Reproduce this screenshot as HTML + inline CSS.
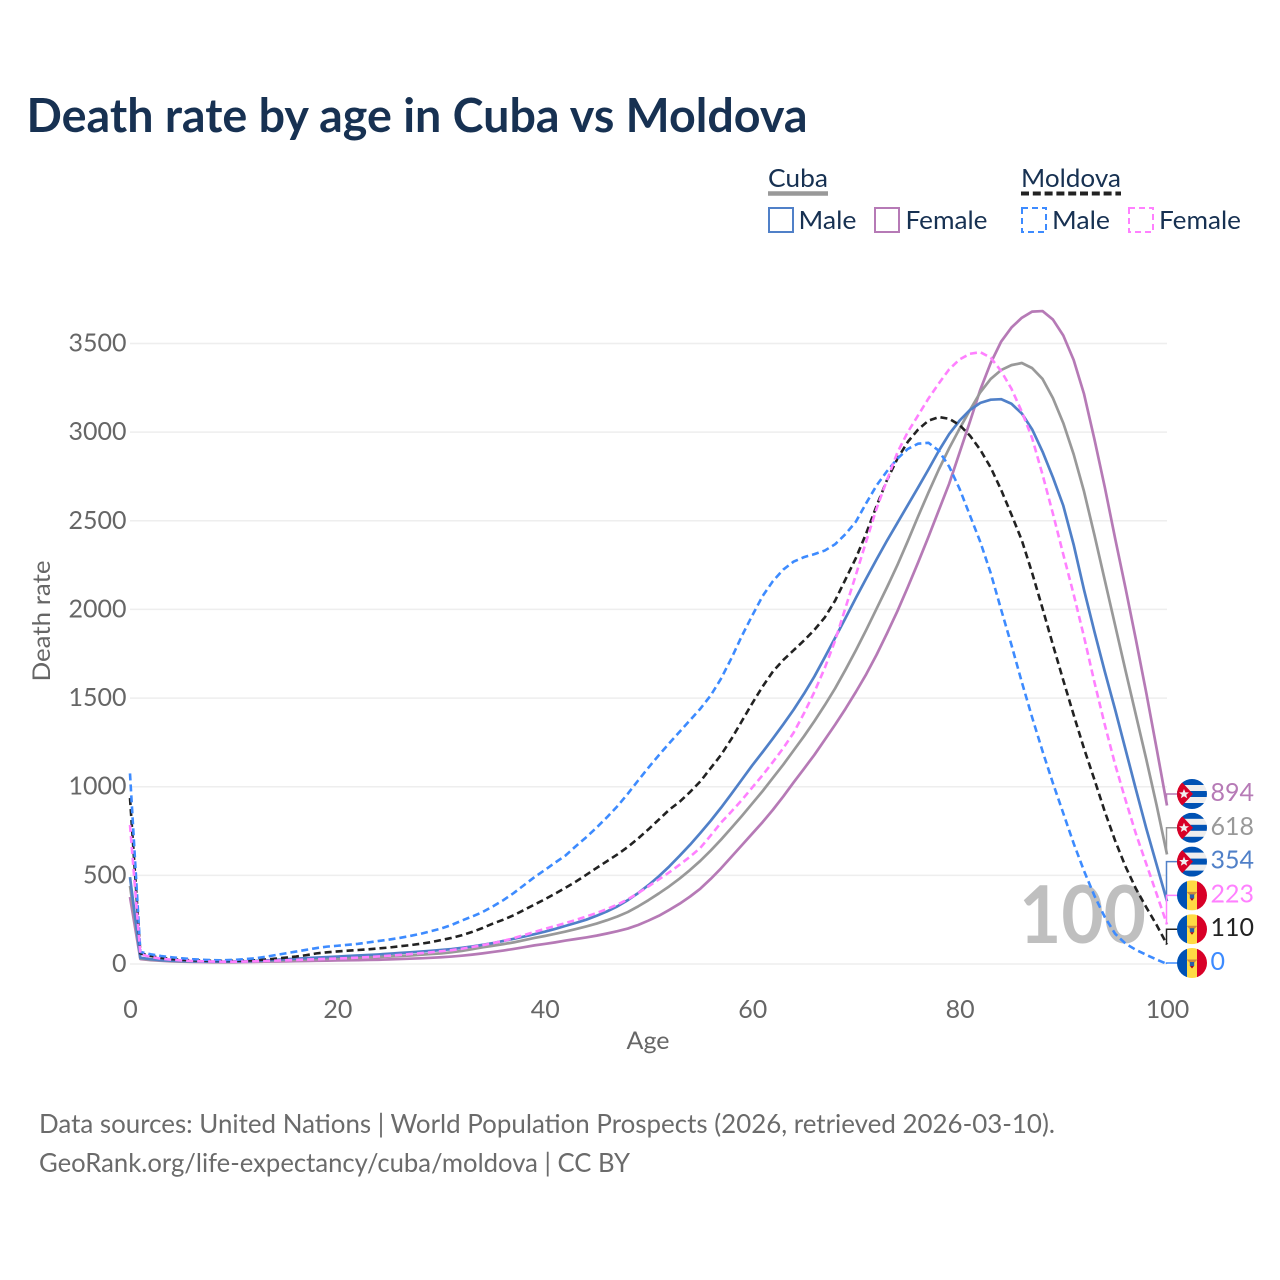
<!DOCTYPE html>
<html lang="en">
<head>
<meta charset="utf-8">
<title>Death rate by age in Cuba vs Moldova</title>
<style>
html,body{margin:0;padding:0;background:#fff;width:1280px;height:1280px;overflow:hidden}
svg{display:block;font-family:"Lato","Carlito","Liberation Sans",sans-serif}
</style>
</head>
<body>
<svg id="chart" xmlns="http://www.w3.org/2000/svg" width="1280" height="1280" viewBox="0 0 1280 1280">
  <defs>
    <clipPath id="flag-clip"><circle cx="0" cy="0" r="15"/></clipPath>
    <g id="flag-cuba" clip-path="url(#flag-clip)">
      <rect x="-15" y="-15" width="30" height="30" fill="#eeeeee"/>
      <rect x="-15" y="-15" width="30" height="6" fill="#0052b4"/>
      <rect x="-15" y="-3" width="30" height="6" fill="#0052b4"/>
      <rect x="-15" y="9" width="30" height="6" fill="#0052b4"/>
      <polygon points="-15,-15 -13,-15 1,0 -13,15 -15,15" fill="#d80027"/>
      <polygon points="-8,-5 -6.6,-1.6 -3,-1.6 -5.8,0.7 -4.8,4.2 -8,2.2 -11.2,4.2 -10.2,0.7 -13,-1.6 -9.4,-1.6" fill="#f0f0f0"/>
    </g>
    <g id="flag-moldova" clip-path="url(#flag-clip)">
      <rect x="-15" y="-15" width="10" height="30" fill="#0052b4"/>
      <rect x="-5" y="-15" width="10" height="30" fill="#ffda44"/>
      <rect x="5" y="-15" width="10" height="30" fill="#d80027"/>
      <polygon points="-5.5,-3.5 5.5,-3.5 2.5,-0.5 -2.5,-0.5" fill="#d08a3c"/>
      <rect x="-2.2" y="-1" width="4.4" height="4" fill="#2b5fa8"/>
      <polygon points="-2,3 2,3 0,5.5" fill="#a2001d"/>
    </g>
  </defs>

  <text x="26.5" y="132" font-size="47" font-weight="700" fill="#173152" textLength="781" lengthAdjust="spacingAndGlyphs">Death rate by age in Cuba vs Moldova</text>

  <g font-size="25" fill="#173152">
    <text x="768" y="187" textLength="60" lengthAdjust="spacingAndGlyphs">Cuba</text>
    <line x1="768" x2="828" y1="193.5" y2="193.5" stroke="#999999" stroke-width="4.5"/>
    <text x="1021" y="187" textLength="100" lengthAdjust="spacingAndGlyphs">Moldova</text>
    <line x1="1021" x2="1121" y1="193.5" y2="193.5" stroke="#222222" stroke-width="4" stroke-dasharray="8 3.8"/>

    <rect x="769" y="208" width="24" height="24" fill="none" stroke="#5080c8" stroke-width="2"/>
    <text x="798.5" y="229" textLength="58" lengthAdjust="spacingAndGlyphs">Male</text>
    <rect x="875" y="208" width="24" height="24" fill="none" stroke="#b67ab6" stroke-width="2"/>
    <text x="905.5" y="229" textLength="82" lengthAdjust="spacingAndGlyphs">Female</text>
    <rect x="1022" y="208" width="24" height="24" fill="none" stroke="#3d8bff" stroke-width="2" stroke-dasharray="6 4"/>
    <text x="1052" y="229" textLength="58" lengthAdjust="spacingAndGlyphs">Male</text>
    <rect x="1129" y="208" width="24" height="24" fill="none" stroke="#ff80ff" stroke-width="2" stroke-dasharray="6 4"/>
    <text x="1159" y="229" textLength="82" lengthAdjust="spacingAndGlyphs">Female</text>
  </g>

  <g id="grid"></g>
  <g id="y-ticks"></g>
  <g id="x-ticks"></g>

  <text transform="translate(50,621) rotate(-90)" text-anchor="middle" font-size="24" fill="#666666" textLength="121" lengthAdjust="spacingAndGlyphs">Death rate</text>
  <text x="648" y="1049" text-anchor="middle" font-size="24" fill="#666666" textLength="43" lengthAdjust="spacingAndGlyphs">Age</text>

  <text x="1019" y="943" font-size="80" font-weight="700" fill="#bfbfbf" textLength="127" lengthAdjust="spacingAndGlyphs">100</text>

  <g id="series" fill="none" stroke-linejoin="round"></g>
  <g id="end-labels"></g>

  <text x="39" y="1133" font-size="26" fill="#6b6b6b" textLength="1016" lengthAdjust="spacingAndGlyphs">Data sources: United Nations | World Population Prospects (2026, retrieved 2026-03-10).</text>
  <text x="39" y="1172" font-size="26" fill="#6b6b6b" textLength="591" lengthAdjust="spacingAndGlyphs">GeoRank.org/life-expectancy/cuba/moldova | CC BY</text>
</svg>

<script>
// Chart data: death rate per age 0..100 (index = age)
const yTicks = [0, 500, 1000, 1500, 2000, 2500, 3000, 3500];
const xTicks = [0, 20, 40, 60, 80, 100];

const cubaMale = [
  490,35,27,22,19,17,15,14,13,13,
  14,15,17,20,23,27,30,33,36,39,
  42,45,48,51,54,58,62,66,70,74,
  79,84,91,99,108,118,130,142,155,168,
  182,198,215,232,250,272,297,325,360,400,
  445,495,550,610,672,739,808,882,960,1040,
  1120,1195,1272,1352,1435,1525,1622,1730,1840,1952,
  2065,2175,2283,2388,2488,2588,2688,2790,2895,2990,
  3065,3125,3165,3183,3186,3160,3105,3015,2890,2745,
  2585,2365,2110,1875,1650,1435,1210,985,765,560,
  354
];
const cubaFemale = [
  378,28,22,18,15,13,12,11,10,10,
  10,11,12,13,14,15,16,17,18,19,
  20,21,22,23,24,26,28,30,32,35,
  38,42,47,53,60,68,76,85,95,105,
  113,122,132,141,150,160,172,185,200,220,
  245,272,305,340,380,425,480,540,605,670,
  735,800,870,945,1025,1102,1180,1265,1350,1440,
  1535,1635,1745,1865,1990,2125,2265,2410,2560,2710,
  2885,3060,3240,3390,3510,3590,3645,3680,3683,3635,
  3545,3407,3215,2960,2690,2400,2120,1830,1530,1215,
  894
];
const cubaTotal = [
  440,31,24,20,17,15,14,13,12,12,
  12,13,14,16,18,21,23,25,27,29,
  31,33,35,37,39,42,45,48,52,56,
  60,66,74,84,94,103,112,122,134,147,
  158,170,183,197,212,228,247,268,293,325,
  360,398,438,482,530,582,640,702,768,835,
  905,975,1050,1125,1205,1285,1370,1460,1555,1660,
  1770,1885,2005,2125,2250,2385,2525,2660,2790,2910,
  3020,3125,3225,3300,3350,3378,3390,3361,3300,3192,
  3051,2875,2665,2420,2165,1910,1655,1405,1155,895,
  618
];
const moldovaTotal = [
  936,60,45,35,28,24,21,19,18,17,
  18,19,21,25,30,36,42,50,60,66,
  71,75,79,83,88,93,100,106,114,123,
  135,147,162,181,203,228,250,275,305,335,
  365,397,430,465,503,542,580,618,660,708,
  760,815,870,915,970,1030,1105,1180,1270,1370,
  1470,1565,1650,1715,1770,1825,1885,1955,2050,2170,
  2290,2430,2585,2730,2850,2945,3015,3065,3085,3075,
  3040,2980,2900,2800,2675,2535,2390,2205,2005,1800,
  1600,1405,1215,1040,860,695,550,425,320,220,
  110
];
const moldovaMale = [
  1075,68,55,45,38,32,27,24,22,21,
  23,27,32,40,50,60,70,80,90,98,
  103,108,114,122,130,138,147,158,170,185,
  200,220,245,268,293,325,360,400,445,490,
  530,572,612,665,715,770,828,890,960,1035,
  1108,1178,1245,1310,1375,1440,1515,1610,1725,1850,
  1965,2075,2160,2225,2270,2295,2312,2332,2368,2425,
  2495,2600,2700,2780,2850,2905,2935,2940,2895,2805,
  2680,2530,2380,2205,2000,1800,1590,1390,1200,1020,
  850,680,525,385,265,170,115,80,52,25,
  0
];
const moldovaFemale = [
  784,55,40,30,24,20,17,15,14,13,
  13,14,15,17,19,21,23,25,27,29,
  31,33,36,39,43,47,51,56,61,66,
  72,78,86,96,106,118,130,146,163,181,
  198,214,231,249,268,288,310,335,365,400,
  438,477,517,560,605,655,725,798,860,925,
  995,1065,1140,1218,1305,1415,1535,1670,1825,2010,
  2195,2385,2570,2730,2885,3000,3095,3190,3275,3355,
  3410,3442,3451,3420,3345,3245,3115,2965,2760,2540,
  2310,2085,1845,1590,1350,1125,925,735,565,395,
  223
];

const SVGNS = 'http://www.w3.org/2000/svg';
const xScale = function (age) { return 130 + age * (1167 - 130) / 100; };
const yScale = function (v) { return 964 - v * (964 - 343.5) / 3500; };

const seriesList = [
  { key: 'cuba-female', values: cubaFemale, color: '#b67ab6', dash: '', width: 2.7, flag: 'flag-cuba' },
  { key: 'cuba-total', values: cubaTotal, color: '#999999', dash: '', width: 2.7, flag: 'flag-cuba' },
  { key: 'cuba-male', values: cubaMale, color: '#5080c8', dash: '', width: 2.7, flag: 'flag-cuba' },
  { key: 'moldova-total', values: moldovaTotal, color: '#222222', dash: '7 4', width: 2.6, flag: 'flag-moldova' },
  { key: 'moldova-male', values: moldovaMale, color: '#3d8bff', dash: '7 4', width: 2.6, flag: 'flag-moldova' },
  { key: 'moldova-female', values: moldovaFemale, color: '#ff80ff', dash: '7 4', width: 2.6, flag: 'flag-moldova' }
];

const gridG = document.getElementById('grid');
const yTickG = document.getElementById('y-ticks');
const xTickG = document.getElementById('x-ticks');
const seriesG = document.getElementById('series');
const labelsG = document.getElementById('end-labels');

yTicks.forEach(function (t) {
  const line = document.createElementNS(SVGNS, 'line');
  
  
  line.setAttribute('x1', 130);
  line.setAttribute('x2', 1167);
  line.setAttribute('y1', yScale(t));
  line.setAttribute('y2', yScale(t));
  line.setAttribute('stroke', '#eeeeee');
  line.setAttribute('stroke-width', 1.5);
  gridG.appendChild(line);

  const label = document.createElementNS(SVGNS, 'text');
  
  
  label.setAttribute('x', 126.5);
  label.setAttribute('y', yScale(t) + 8);
  label.setAttribute('text-anchor', 'end');
  label.setAttribute('font-size', 25);
  label.setAttribute('fill', '#666666');
  label.textContent = t;
  yTickG.appendChild(label);
});

xTicks.forEach(function (t) {
  const label = document.createElementNS(SVGNS, 'text');
  
  
  label.setAttribute('x', xScale(t) + 0.5);
  label.setAttribute('y', 1018);
  label.setAttribute('text-anchor', 'middle');
  label.setAttribute('font-size', 25);
  label.setAttribute('fill', '#666666');
  label.textContent = t;
  xTickG.appendChild(label);
});

seriesList.forEach(function (s) {
  const path = document.createElementNS(SVGNS, 'polyline');
  
  
  path.setAttribute('data-series', s.key);
  path.setAttribute('points', s.values.map(function (v, age) {
    return xScale(age).toFixed(2) + ',' + yScale(v).toFixed(2);
  }).join(' '));
  path.setAttribute('stroke', s.color);
  path.setAttribute('stroke-width', s.width);
  if (s.dash) path.setAttribute('stroke-dasharray', s.dash);
  seriesG.appendChild(path);
});

// End-of-line labels, stacked in descending value order
const ordered = seriesList.slice().sort(function (a, b) {
  return b.values[100] - a.values[100];
});
ordered.forEach(function (s, i) {
  const flagY = 794 + i * 33.8;
  const endVal = s.values[100];

  const leader = document.createElementNS(SVGNS, 'path');
  
  
  leader.setAttribute('d', 'M1166.5,' + yScale(endVal).toFixed(1) + ' V' + flagY.toFixed(1) + ' H1178');
  leader.setAttribute('fill', 'none');
  leader.setAttribute('stroke', s.color);
  leader.setAttribute('stroke-width', 1.5);
  labelsG.appendChild(leader);

  const flag = document.createElementNS(SVGNS, 'use');
  
  
  flag.setAttribute('href', '#' + s.flag);
  flag.setAttribute('transform', 'translate(1192,' + flagY.toFixed(1) + ')');
  labelsG.appendChild(flag);

  const label = document.createElementNS(SVGNS, 'text');
  
  
  label.setAttribute('x', 1210.5);
  label.setAttribute('y', (flagY + 7).toFixed(1));
  label.setAttribute('font-size', 25);
  label.setAttribute('fill', s.color);
  label.textContent = endVal;
  labelsG.appendChild(label);
});
</script>
</body>
</html>
